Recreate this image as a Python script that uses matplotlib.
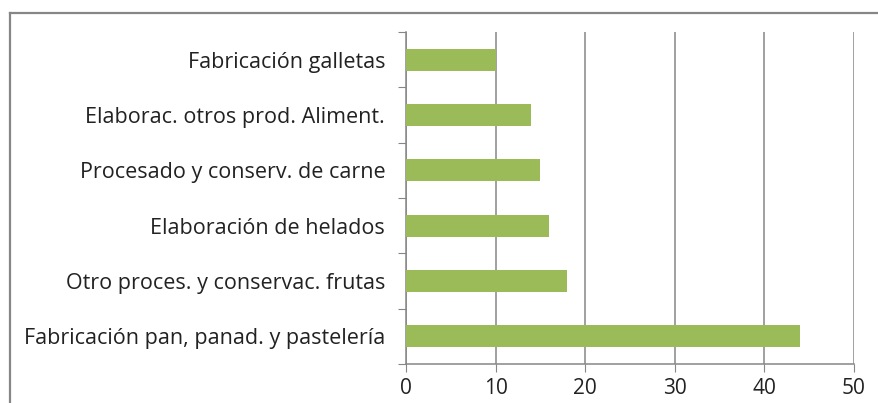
import matplotlib
matplotlib.use("Agg")
import matplotlib.pyplot as plt
from matplotlib.lines import Line2D

categories = ["Fabricación pan, panad. y pastelería",
              "Otro proces. y conservac. frutas",
              "Elaboración de helados",
              "Procesado y conserv. de carne",
              "Elaborac. otros prod. Aliment.",
              "Fabricación galletas"]
values = [44, 18, 16, 15, 14, 10]
xticks = [0, 10, 20, 30, 40, 50]

W, H = 879, 403
fig = plt.figure(figsize=(W/100, H/100), dpi=100)
fig.patch.set_facecolor("white")
ax = fig.add_axes([406/W, 1-364/H, (854-406)/W, (364-32)/H])

grey = "#868686"
pos = list(range(len(categories)))
ax.barh(pos, values, height=0.4, color="#9BBB59", zorder=3)
ax.set_xlim(0, 50)
ax.set_ylim(-0.5, len(categories)-0.5)
ax.set_xticks(xticks)
ax.set_xticklabels([str(t) for t in xticks], fontsize=15, family="Open Sans", color="#222222")
ax.xaxis.grid(True, color=grey, linewidth=1.1, zorder=0)
ax.set_yticks([p-0.5 for p in pos] + [len(categories)-0.5])
ax.set_yticklabels([])
ax.set_yticks(pos, minor=True)
ax.set_yticklabels(categories, minor=True, fontsize=15.5, family="Open Sans", color="#222222")
ax.tick_params(axis="y", which="minor", length=0, pad=15)
ax.tick_params(axis="y", which="major", length=6, color=grey, direction="out")
ax.tick_params(axis="x", length=6, color=grey, direction="out", pad=4)
for s in ["top", "right"]:
    ax.spines[s].set_visible(False)
for s in ["left", "bottom"]:
    ax.spines[s].set_color(grey)
    ax.spines[s].set_linewidth(1.1)

# outer chart frame
fx, fy = 10/W, 1-13/H
fig.add_artist(Line2D([fx, fx], [0, fy], color=grey, linewidth=1.6, transform=fig.transFigure))
fig.add_artist(Line2D([fx, 1], [fy, fy], color=grey, linewidth=1.6, transform=fig.transFigure))

fig.savefig("out.png", dpi=100)
